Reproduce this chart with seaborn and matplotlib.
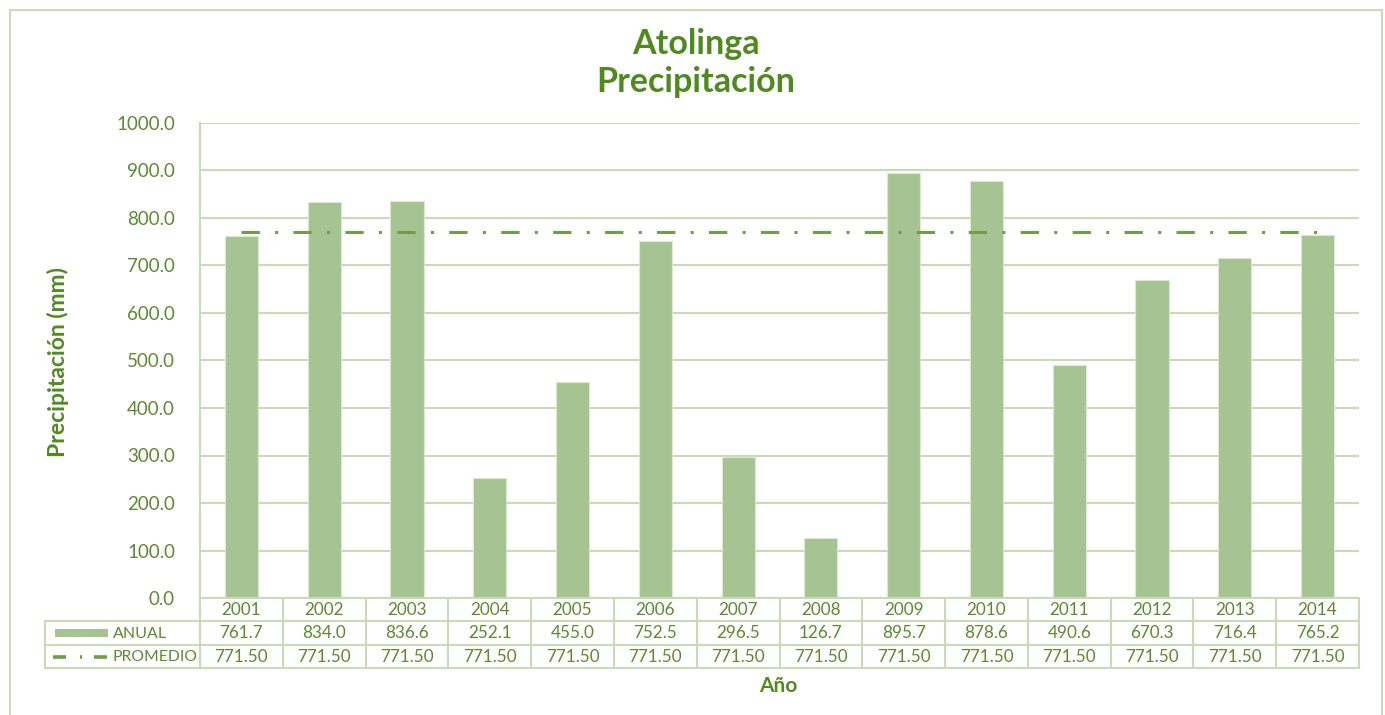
import matplotlib
matplotlib.use('Agg')
import matplotlib.pyplot as plt
import seaborn as sns
import pandas as pd
from matplotlib.patches import Rectangle
from matplotlib.lines import Line2D

# Datos
anios = ['2001', '2002', '2003', '2004', '2005', '2006', '2007',
         '2008', '2009', '2010', '2011', '2012', '2013', '2014']
anual = [761.7, 834.0, 836.6, 252.1, 455.0, 752.5, 296.5,
         126.7, 895.7, 878.6, 490.6, 670.3, 716.4, 765.2]
promedio = [771.50] * len(anios)
yticks = [0, 100, 200, 300, 400, 500, 600, 700, 800, 900, 1000]

color_barra = '#A6C491'
color_linea = '#6E9F48'
color_texto = '#5B8A31'
color_titulo = '#4F8A1F'
color_rejilla = '#C6DBB6'

sns.set_style('white')
plt.rcParams['font.family'] = ['Lato', 'DejaVu Sans']

W, H = 1385, 715
fig = plt.figure(figsize=(W / 100, H / 100), dpi=100)
x0, x1, ytop, ybot = 200, 1359, 123, 598
ax = fig.add_axes([x0 / W, 1 - ybot / H, (x1 - x0) / W, (ybot - ytop) / H])

df = pd.DataFrame({'Año': anios, 'ANUAL': anual})
sns.barplot(data=df, x='Año', y='ANUAL', color=color_barra, width=0.4,
            saturation=1, edgecolor='#DCE8D2', linewidth=0.8, ax=ax, zorder=3)
ax.plot(range(len(anios)), promedio, color=color_linea, lw=2.2,
        dashes=(6, 5, 1, 5), zorder=4)

ax.set_xlim(-0.5, len(anios) - 0.5)
ax.set_ylim(0, 1000)
ax.set_yticks(yticks)
ax.set_yticklabels([f'{v:.1f}' for v in yticks], color=color_texto, fontsize=13.5)
ax.tick_params(axis='y', length=0, pad=18)
ax.set_xticks([])
ax.set_xlabel('')
ax.set_ylabel('')
ax.yaxis.grid(True, color=color_rejilla, lw=1.5, zorder=0)
for s in ['top', 'right', 'bottom']:
    ax.spines[s].set_visible(False)
ax.spines['left'].set_color(color_rejilla)
ax.spines['left'].set_linewidth(1.5)


# conversion de pixeles a fraccion de figura
def fy(py):
    return 1 - py / H


def fx(px):
    return px / W


# Tabla de datos bajo el eje
lc = color_rejilla
lw = 1.5
fig.add_artist(Line2D([fx(x0), fx(x1)], [fy(598), fy(598)], color=lc, lw=lw))
for py in [621, 645, 668]:
    fig.add_artist(Line2D([fx(45), fx(x1)], [fy(py), fy(py)], color=lc, lw=lw))
ancho = (x1 - x0) / len(anios)
for i in range(len(anios) + 1):
    px = x0 + i * ancho
    fig.add_artist(Line2D([fx(px), fx(px)], [fy(598), fy(668)], color=lc, lw=lw))
fig.add_artist(Line2D([fx(45), fx(45)], [fy(621), fy(668)], color=lc, lw=lw))

for i, (a, v, p) in enumerate(zip(anios, anual, promedio)):
    xc = fx(x0 + (i + 0.5) * ancho)
    fig.text(xc, fy(610), a, ha='center', va='center', color=color_texto, fontsize=12.3)
    fig.text(xc, fy(633.5), f'{v:.1f}', ha='center', va='center', color=color_texto, fontsize=12.3)
    fig.text(xc, fy(657), f'{p:.2f}', ha='center', va='center', color=color_texto, fontsize=12.3)

# claves de la leyenda
fig.add_artist(Rectangle((fx(55), fy(637)), fx(108) - fx(55), fy(629) - fy(637),
                         facecolor=color_barra, edgecolor='none'))
fig.text(fx(113), fy(633.5), 'ANUAL', ha='left', va='center', color=color_texto, fontsize=11.5)
for xa, xb in [(53, 66), (80, 82), (94, 107)]:
    fig.add_artist(Line2D([fx(xa), fx(xb)], [fy(656.5), fy(656.5)], color=color_linea,
                          lw=2.6, solid_capstyle='butt'))
fig.text(fx(113), fy(657), 'PROMEDIO', ha='left', va='center', color=color_texto, fontsize=11.3)

# titulos
fig.text(fx(696), fy(44), 'Atolinga', ha='center', va='center', color=color_titulo,
         fontsize=24.5, fontweight='bold')
fig.text(fx(696), fy(82), 'Precipitación', ha='center', va='center', color=color_titulo,
         fontsize=24.5, fontweight='bold')
fig.text(fx(778), fy(686), 'Año', ha='center', va='center', color=color_titulo,
         fontsize=15, fontweight='bold')
fig.text(fx(58), fy(362), 'Precipitación (mm)', ha='center', va='center', rotation=90,
         color=color_titulo, fontsize=16.5, fontweight='bold')

# borde exterior
for (xa, ya, xb, yb) in [(10, 10, 1382, 10), (10, 10, 10, 715), (1382, 10, 1382, 715)]:
    fig.add_artist(Line2D([fx(xa), fx(xb)], [fy(ya), fy(yb)], color=color_rejilla, lw=1.5))

fig.savefig('out.png', dpi=100, facecolor='white')
